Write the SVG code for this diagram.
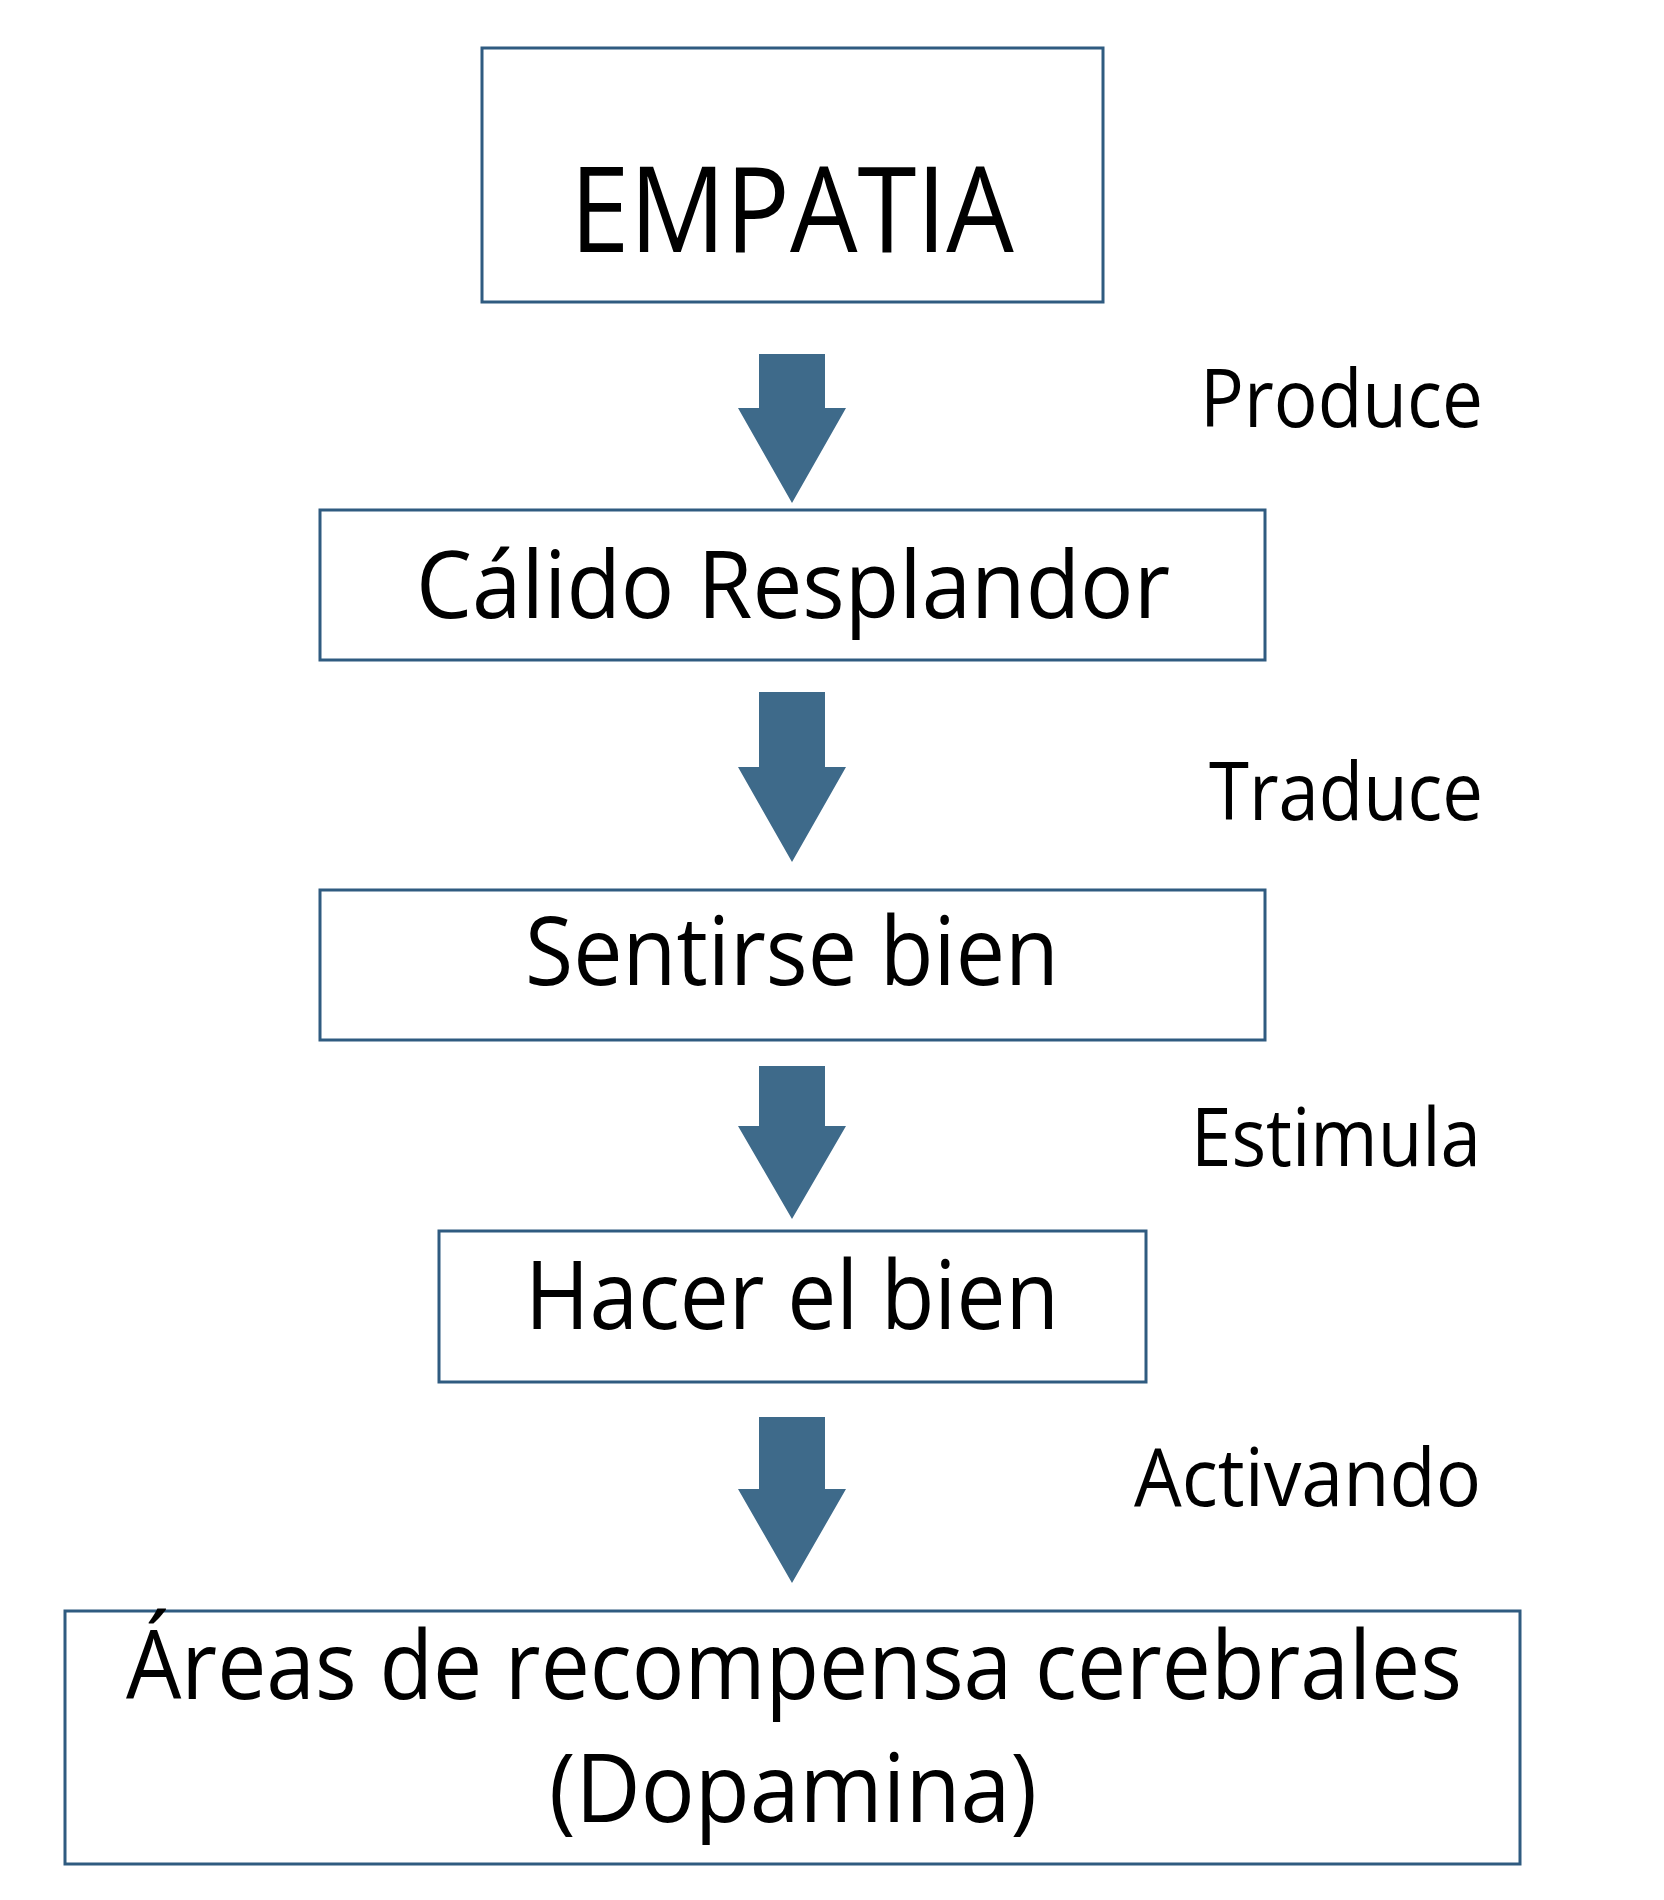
<svg xmlns="http://www.w3.org/2000/svg" width="1664" height="1900" viewBox="0 0 1664 1900">
<style>
.box{fill:#fff;stroke:#2F5B80;stroke-width:3}
.t{font-family:"Open Sans","Noto Sans","Liberation Sans",sans-serif;fill:#000;text-anchor:middle}
.lbl{font-family:"Open Sans","Noto Sans","Liberation Sans",sans-serif;fill:#000;text-anchor:end;font-size:80px}
.arr{fill:#3E6A8A}
</style>
<rect width="1664" height="1900" fill="#fff"/>
<g id="connectors">
<polygon class="arr" points="759,354 825,354 825,408 846,408 792,503 738,408 759,408"/>
<polygon class="arr" points="759,692 825,692 825,767 846,767 792,862 738,767 759,767"/>
<polygon class="arr" points="759,1066 825,1066 825,1126 846,1126 792,1219 738,1126 759,1126"/>
<polygon class="arr" points="759,1417 825,1417 825,1489 846,1489 792,1583 738,1489 759,1489"/>
<text class="lbl" x="1483" y="427" textLength="283" lengthAdjust="spacingAndGlyphs">Produce</text>
<text class="lbl" x="1483" y="820" textLength="274" lengthAdjust="spacingAndGlyphs">Traduce</text>
<text class="lbl" x="1481" y="1166" textLength="290" lengthAdjust="spacingAndGlyphs">Estimula</text>
<text class="lbl" x="1481" y="1506" textLength="347" lengthAdjust="spacingAndGlyphs">Activando</text>
</g>
<g id="n1">
<rect class="box" x="482" y="48" width="621" height="254"/>
<text class="t" x="792" y="252" font-size="119" textLength="444" lengthAdjust="spacingAndGlyphs">EMPATIA</text>
</g>
<g id="n2">
<rect class="box" x="320" y="510" width="945" height="150"/>
<text class="t" x="793" y="618" font-size="94" textLength="754" lengthAdjust="spacingAndGlyphs">Cálido Resplandor</text>
</g>
<g id="n3">
<rect class="box" x="320" y="890" width="945" height="150"/>
<text class="t" x="792" y="985" font-size="96" textLength="534" lengthAdjust="spacingAndGlyphs">Sentirse bien</text>
</g>
<g id="n4">
<rect class="box" x="439" y="1231" width="707" height="151"/>
<text class="t" x="792" y="1329" font-size="96" textLength="534" lengthAdjust="spacingAndGlyphs">Hacer el bien</text>
</g>
<g id="n5">
<rect class="box" x="65" y="1611" width="1455" height="253"/>
<text class="t" x="794" y="1699" font-size="96" textLength="1336" lengthAdjust="spacingAndGlyphs">Áreas de recompensa cerebrales</text>
<text class="t" x="793" y="1822" font-size="96" textLength="488" lengthAdjust="spacingAndGlyphs">(Dopamina)</text>
</g>
</svg>
